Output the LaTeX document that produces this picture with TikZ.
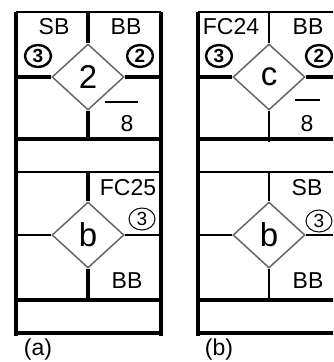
\documentclass[tikz,border=0pt]{standalone}
\usepackage{fontspec}
\setmainfont{Liberation Sans}
\usetikzlibrary{shapes.geometric}
\begin{document}
\begin{tikzpicture}[x=1pt,y=-1pt,
  lab/.style={font=\fontsize{23}{26}\selectfont, inner sep=0},
  dia/.style={diamond, draw=black!60, line width=1.5, minimum width=72, minimum height=66, inner sep=0, aspect=1, font=\fontsize{33}{36}\selectfont},
  cbold/.style={ellipse, draw, line width=2.4, minimum width=26, minimum height=22, inner sep=0, font=\bfseries\fontsize{19}{19}\selectfont},
  cthin/.style={ellipse, draw, line width=1, minimum width=26, minimum height=22, inner sep=0, font=\fontsize{19}{19}\selectfont},
  wA/.style={line width=3.5},
  wB/.style={line width=2.3},
  wC/.style={line width=1.5}
]
\useasboundingbox (0,0) rectangle (333,362);
\clip (0,0) rectangle (333,362);
% ---------------- panel (a) ----------------
\coordinate (aTL) at (16,12);  \coordinate (aTR) at (161,12);
\coordinate (aBL) at (16,336); \coordinate (aBR) at (161,336);
\draw[wA] (aTL) -- (aBL);
\draw[wA] (aTR) -- (aBR);
\draw[line width=2.8] (aTL) -- (aTR);
\coordinate (a139L) at (16,139); \coordinate (a139R) at (161,139);
\coordinate (a172L) at (16,172); \coordinate (a172R) at (161,172);
\coordinate (a300L) at (16,300); \coordinate (a300R) at (161,300);
\coordinate (a333L) at (16,333); \coordinate (a333R) at (161,333);
\draw[line width=4] (a139L) -- (a139R);
\draw[wB] (a172L) -- (a172R);
\draw[wA] (a300L) -- (a300R);
\draw[wA] (a333L) -- (a333R);
\node[dia] (da1) at (88,77) {2};
\node[dia] (da2) at (88,235) {b};
\coordinate (aM1) at (88,12);  \coordinate (aM2) at (88,141);
\coordinate (aM3) at (88,172); \coordinate (aM4) at (88,300);
\coordinate (aH1L) at (16,77);  \coordinate (aH1R) at (161,77);
\coordinate (aH2L) at (16,235); \coordinate (aH2R) at (161,235);
\draw[wA] (aM1) -- (da1.north);
\draw[wA] (da1.south) -- (aM2);
\draw[wA] (aH1L) -- (da1.west);
\draw[wA] (da1.east) -- (aH1R);
\draw[wA] (aM3) -- (da2.north);
\draw[wA] (da2.south) -- (aM4);
\draw[wC] (aH2L) -- (da2.west);
\draw[wC] (da2.east) -- (aH2R);
\node[lab] (aSB) at (54,27) {SB};
\node[lab] (aBB) at (126,27) {BB};
\node[cbold] (ac3) at (38,56) {3};
\node[cbold] (ac2) at (140,56) {2};
\coordinate (abarL) at (105,102); \coordinate (abarR) at (138,102);
\draw[line width=1.6] (abarL) -- (abarR);
\node[lab] (a8) at (127,124) {8};
\node[lab] (aFC) at (128,188) {FC25};
\node[cthin] (ac3b) at (142,219) {3};
\node[lab] (aBB2) at (127,281) {BB};
\node[lab] (alab) at (38,350) {(a)};
% ---------------- panel (b) ----------------
\coordinate (bTL) at (198,12); \coordinate (bTR) at (345,12);
\coordinate (bBL) at (198,336);
\draw[wA] (bTL) -- (bBL);
\draw[line width=1.6] (bTL) -- (bTR);
\coordinate (b139L) at (198,139); \coordinate (b139R) at (345,139);
\coordinate (b172L) at (198,172); \coordinate (b172R) at (345,172);
\coordinate (b300L) at (198,300); \coordinate (b300R) at (345,300);
\coordinate (b333L) at (198,333); \coordinate (b333R) at (345,333);
\draw[wA] (b139L) -- (b139R);
\draw[wB] (b172L) -- (b172R);
\draw[wA] (b300L) -- (b300R);
\draw[wA] (b333L) -- (b333R);
\node[dia] (db1) at (269,77) {c};
\node[dia] (db2) at (269,235) {b};
\coordinate (bM1) at (269,12);  \coordinate (bM2) at (269,142);
\coordinate (bM3) at (269,172); \coordinate (bM4) at (269,300);
\coordinate (bH1L) at (198,77);  \coordinate (bH1R) at (345,77);
\coordinate (bH2L) at (198,235); \coordinate (bH2R) at (345,235);
\draw[wC] (bM1) -- (db1.north);
\draw[wC] (db1.south) -- (bM2);
\draw[wA] (bH1L) -- (db1.west);
\draw[wA] (db1.east) -- (bH1R);
\draw[wC] (bM3) -- (db2.north);
\draw[wC] (db2.south) -- (bM4);
\draw[wC] (bH2L) -- (db2.west);
\draw[wC] (db2.east) -- (bH2R);
\node[lab] (bFC) at (231,27) {FC24};
\node[lab] (bBB) at (308,27) {BB};
\node[cbold] (bc3) at (219,56) {3};
\node[cbold] (bc2) at (319,56) {2};
\coordinate (bbarL) at (295,100); \coordinate (bbarR) at (320,100);
\draw[line width=1.6] (bbarL) -- (bbarR);
\node[lab] (b8) at (307,124) {8};
\node[lab] (bSB) at (307,188) {SB};
\node[cthin] (bc3b) at (319,221) {3};
\node[lab] (bBB2) at (308,281) {BB};
\node[lab] (blab) at (219,350) {(b)};
\end{tikzpicture}
\end{document}
